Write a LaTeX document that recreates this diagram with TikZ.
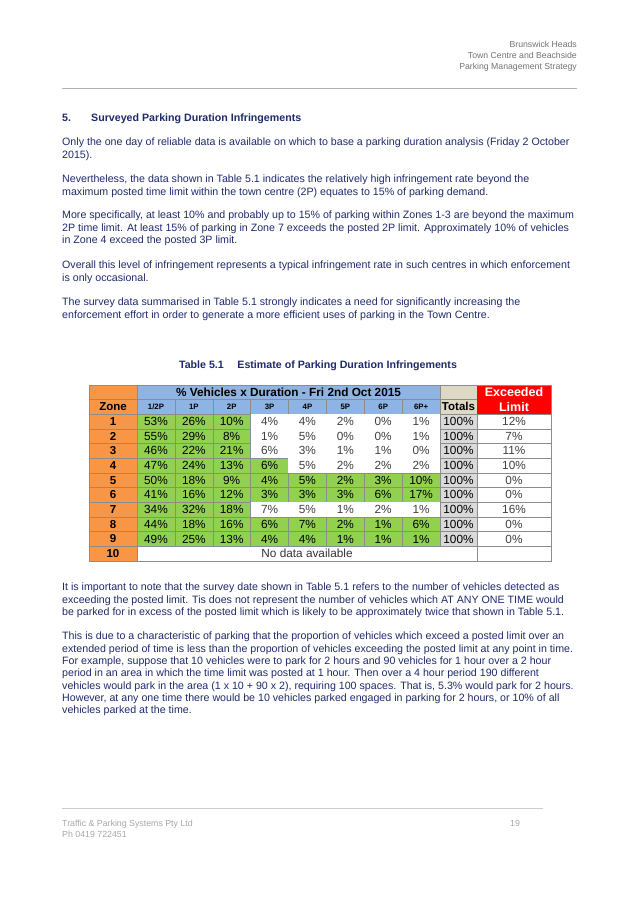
\documentclass[tikz,border=0pt]{standalone}
\usepackage{fontspec}
\setmainfont{Liberation Sans}
\usetikzlibrary{positioning}
\definecolor{textblue}{HTML}{1F2A6B}
\definecolor{cellorange}{HTML}{F79646}
\definecolor{cellblue}{HTML}{8DB4E2}
\definecolor{cellgreen}{HTML}{92D050}
\definecolor{cellgrey}{HTML}{D9D9D9}
\definecolor{celltan}{HTML}{DDD9C4}
\tikzstyle{bodytext} = [anchor=north west, inner sep=0pt, align=left, text=textblue, font=\fontsize{10.65}{12.3}\selectfont]
\tikzstyle{pagehead} = [anchor=north east, inner sep=0pt, align=right, text=black!55, font=\fontsize{8.7}{11}\selectfont]
\tikzstyle{pagefoot} = [anchor=north west, inner sep=0pt, align=left, text=black!35, font=\fontsize{8.8}{11}\selectfont]
\tikzstyle{cell} = [draw=black!45, line width=0.3pt, inner sep=0pt, minimum height=14.7pt, font=\fontsize{11.8}{12}\selectfont]
\tikzstyle{hdcell} = [draw=black!45, line width=0.3pt, inner sep=0pt, font=\bfseries\fontsize{11.5}{12}\selectfont]

\begin{document}
\begin{tikzpicture}[x=1pt, y=-1pt]
\useasboundingbox (0,0) rectangle (638,900);

% page header
\node (head) [pagehead] at (577,41) {Brunswick Heads\\Town Centre and Beachside\\Parking Management Strategy};
\draw [black!30] (62,88) -- (577,88);

% section text
\node (secnum) [bodytext, font=\bfseries\fontsize{10.65}{12.3}\selectfont] at (62,114) {5.};
\node (sectitle) [bodytext, font=\bfseries\fontsize{10.65}{12.3}\selectfont] at (91,114) {Surveyed Parking Duration Infringements};
\node (para1) [bodytext] at (62,138) {Only the one day of reliable data is available on which to base a parking duration analysis (Friday 2 October\\2015).};
\node (para2) [bodytext] at (62,175) {Nevertheless, the data shown in Table 5.1 indicates the relatively high infringement rate beyond the\\maximum posted time limit within the town centre (2P) equates to 15\% of parking demand.};
\node (para3) [bodytext] at (62,211) {More specifically, at least 10\% and probably up to 15\% of parking within Zones 1-3 are beyond the maximum\\2P time limit. At least 15\% of parking in Zone 7 exceeds the posted 2P limit. Approximately 10\% of vehicles\\in Zone 4 exceed the posted 3P limit.};
\node (para4) [bodytext] at (62,261) {Overall this level of infringement represents a typical infringement rate in such centres in which enforcement\\is only occasional.};
\node (para5) [bodytext] at (62,298) {The survey data summarised in Table 5.1 strongly indicates a need for significantly increasing the\\enforcement effort in order to generate a more efficient uses of parking in the Town Centre.};

% table caption
\node (caption) [text=textblue, inner sep=0pt, font=\bfseries\fontsize{10.65}{12}\selectfont] at (318,366) {Table 5.1\quad\ Estimate of Parking Duration Infringements};

% table header
\node (zonetop) [hdcell, fill=cellorange, minimum width=48pt, minimum height=14pt] at (113,392) {};
\node (zonehd) [hdcell, fill=cellorange, minimum width=48pt, minimum height=15pt] at (113,406.5) {Zone};
\node (titlehd) [hdcell, fill=cellblue, minimum width=303pt, minimum height=14pt, font=\bfseries\fontsize{11.8}{12}\selectfont] at (288.5,392) {\% Vehicles x Duration - Fri 2nd Oct 2015};
\foreach \lbl [count=\k] in {1/2P,1P,2P,3P,4P,5P,6P,6P+}
  \node (hd\k) [hdcell, fill=cellblue, minimum width=37.9pt, minimum height=15pt, font=\bfseries\fontsize{7.8}{8}\selectfont] at ({137+37.875*(\k-0.5)},406.5) {\lbl};
\node (tottop) [hdcell, fill=celltan, minimum width=37pt, minimum height=14pt] at (458.5,392) {};
\node (tothd) [hdcell, fill=celltan, minimum width=37pt, minimum height=15pt] at (458.5,406.5) {Totals};
\node (limhd) [hdcell, draw=red, fill=red, text=white, minimum width=74pt, minimum height=29pt, align=center, font=\bfseries\fontsize{12.5}{15}\selectfont] at (514,399.5) {Exceeded\\Limit};

% table body
\foreach \z/\g/\a/\b/\c/\d/\e/\f/\h/\i/\ex in {1/3/53/26/10/4/4/2/0/1/12, 2/3/55/29/8/1/5/0/0/1/7, 3/3/46/22/21/6/3/1/1/0/11, 4/4/47/24/13/6/5/2/2/2/10, 5/8/50/18/9/4/5/2/3/10/0, 6/8/41/16/12/3/3/3/6/17/0, 7/3/34/32/18/7/5/1/2/1/16, 8/8/44/18/16/6/7/2/1/6/0, 9/8/49/25/13/4/4/1/1/1/0}{
  \pgfmathsetmacro\yc{414+(\z-0.5)*14.7}
  \node (z\z) [cell, fill=cellorange, minimum width=48pt, font=\bfseries\fontsize{11.5}{12}\selectfont] at (113,\yc) {\z};
  \foreach \v [count=\k] in {\a,\b,\c,\d,\e,\f,\h,\i}{
    \ifnum\k>\g
      \node (c\z-\k) [cell, draw=none, fill=white, text=black!75, minimum width=37.9pt] at ({137+37.875*(\k-0.5)},\yc) {\v\%};
    \else
      \node (c\z-\k) [cell, fill=cellgreen, minimum width=37.9pt] at ({137+37.875*(\k-0.5)},\yc) {\v\%};
    \fi
  }
  \node (t\z) [cell, fill=cellgrey, minimum width=37pt] at (458.5,\yc) {100\%};
  \node (x\z) [cell, fill=white, text=black!75, minimum width=74pt] at (514,\yc) {\ex\%};
  \draw [black!45, line width=0.3pt] (137,{414+\z*14.7}) -- (440,{414+\z*14.7});
}
\node (z10) [cell, fill=cellorange, minimum width=48pt, font=\bfseries\fontsize{11.5}{12}\selectfont] at (113,553.65) {10};
\node (nodata) [cell, fill=white, minimum width=340pt, text=black!80] at (307,553.65) {No data available};
\node (x10) [cell, fill=white, minimum width=74pt] at (514,553.65) {};
\draw [black!45, line width=0.3pt] (89,385) rectangle (551,561);

% text after the table
\node (para6) [bodytext] at (62,583) {It is important to note that the survey date shown in Table 5.1 refers to the number of vehicles detected as\\exceeding the posted limit. Tis does not represent the number of vehicles which AT ANY ONE TIME would\\be parked for in excess of the posted limit which is likely to be approximately twice that shown in Table 5.1.};
\node (para7) [bodytext] at (62,632) {This is due to a characteristic of parking that the proportion of vehicles which exceed a posted limit over an\\extended period of time is less than the proportion of vehicles exceeding the posted limit at any point in time.\\For example, suppose that 10 vehicles were to park for 2 hours and 90 vehicles for 1 hour over a 2 hour\\period in an area in which the time limit was posted at 1 hour. Then over a 4 hour period 190 different\\vehicles would park in the area (1 x 10 + 90 x 2), requiring 100 spaces. That is, 5.3\% would park for 2 hours.\\However, at any one time there would be 10 vehicles parked engaged in parking for 2 hours, or 10\% of all\\vehicles parked at the time.};

% page footer
\draw [black!20] (62,808) -- (543,808);
\node (foot) [pagefoot] at (62,820) {Traffic \& Parking Systems Pty Ltd\\Ph 0419 722451};
\node (pageno) [pagefoot] at (510,820) {19};
\end{tikzpicture}
\end{document}
